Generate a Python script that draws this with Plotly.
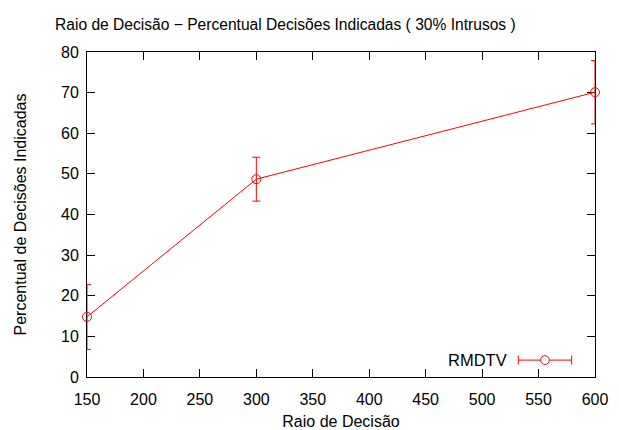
import plotly.graph_objects as go

raio = [150, 300, 600]
percentual = [14.8, 48.7, 70.1]
erro = [8.0, 5.4, 7.8]
x_ticks = [150, 200, 250, 300, 350, 400, 450, 500, 550, 600]
y_ticks = [0, 10, 20, 30, 40, 50, 60, 70, 80]

RED = "#ff0000"
FONT = "Liberation Sans, Arial, Helvetica, sans-serif"

fig = go.Figure()
fig.add_trace(go.Scatter(
    x=raio, y=percentual, mode="lines+markers", name="RMDTV",
    line=dict(color=RED, width=1),
    marker=dict(symbol="circle-open", size=9, color=RED, line=dict(width=1, color=RED)),
    error_y=dict(type="data", array=erro, visible=True, color=RED, thickness=1, width=4),
    cliponaxis=False, showlegend=False,
))

axis_common = dict(showline=True, linecolor="black", linewidth=1, mirror="ticks",
                   ticks="inside", ticklen=8, tickcolor="black", tickwidth=1,
                   showgrid=False, zeroline=False, automargin=False, layer="below traces",
                   tickfont=dict(family=FONT, size=16, color="black"))

fig.update_xaxes(range=[150, 600], tickvals=x_ticks, ticklabelstandoff=8,
                 title=dict(text="Raio de Decisão", font=dict(family=FONT, size=16, color="black"), standoff=13),
                 **axis_common)
fig.update_yaxes(range=[0, 80], tickvals=y_ticks, ticklabelstandoff=4,
                 title=dict(text="Percentual de Decisões Indicadas", font=dict(family=FONT, size=16, color="black"), standoff=30),
                 **axis_common)

# legend drawn gnuplot-style (text left of sample)
fig.add_annotation(xref="paper", yref="paper", x=0.830, y=0.052, xanchor="right", yanchor="middle",
                   text="RMDTV", showarrow=False, font=dict(family=FONT, size=16.5, color="black"))
lx0, lx1, ly = 0.849, 0.954, 0.052
fig.add_shape(type="line", xref="paper", yref="paper", x0=lx0, x1=lx1, y0=ly, y1=ly,
              line=dict(color=RED, width=1))
for lx in (lx0, lx1):
    fig.add_shape(type="line", xref="paper", yref="paper", x0=lx, x1=lx, y0=ly - 0.014, y1=ly + 0.014,
                  line=dict(color=RED, width=1))
cx = (lx0 + lx1) / 2
fig.add_shape(type="circle", xref="paper", yref="paper",
              x0=cx - 0.0085, x1=cx + 0.0085, y0=ly - 0.0135, y1=ly + 0.0135,
              line=dict(color=RED, width=1), fillcolor="white")

fig.update_layout(
    width=619, height=430,
    margin=dict(l=87, r=24, t=52, b=53, autoexpand=False),
    paper_bgcolor="white", plot_bgcolor="white",
    title=dict(text="Raio de Decisão − Percentual Decisões Indicadas ( 30% Intrusos )",
               x=0.461, xanchor="center", y=0.943, yanchor="middle",
               font=dict(family=FONT, size=15.6, color="black")),
    font=dict(family=FONT, color="black"),
)

fig.write_html("out.html")
